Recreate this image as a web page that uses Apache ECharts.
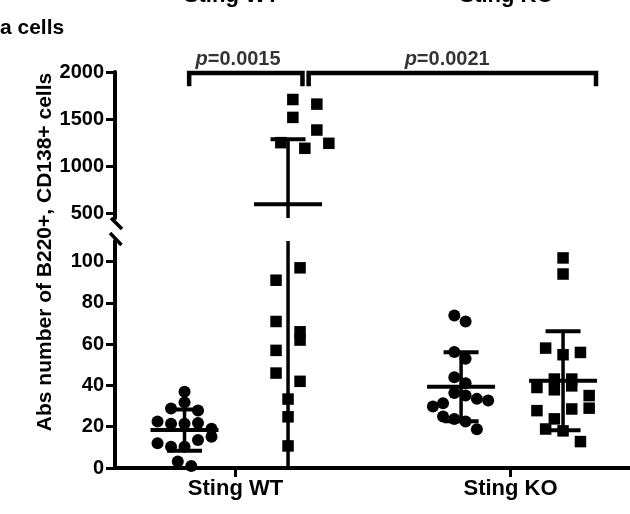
<!DOCTYPE html>
<html>
<head>
<meta charset="utf-8">
<script src="https://cdn.jsdelivr.net/npm/echarts@6/dist/echarts.min.js"></script>
<style>
html, body { margin: 0; padding: 0; background: #fff; }
#chart { width: 630px; height: 514px; }
</style>
</head>
<body>
<div id="chart"></div>
<script>
// groups on the x axis
const groups = ['Sting WT', 'Sting KO'];
const groupPos = [23.4, 76.8];
// column centres: WT circles, WT squares, KO circles, KO squares
const colPos = [13.5, 33.6, 67.2, 87.0];
const laneStep = [2.62, 2.33, 2.19, 1.69];

// Sting WT - circles
const wtCircleVals = [37, 31.8, 28.8, 27.9, 22.5, 21.4, 21.4, 21.8, 19, 12, 10.3, 10.3, 13.6, 15.1, 3.2, 1];
const wtCircleLane = [0, 0, -1, 1, -2, -1, 0, 1, 2, -2, -1, 0, 1, 2, -0.5, 0.5];
// Sting WT - squares above the break
const wtSquareHigh = [1708, 1659, 1518, 1384, 1250, 1190, 1243];
const wtSquareHighLane = [0.4, 2.4, 0.4, 2.4, -0.6, 1.4, 3.4];
// Sting WT - squares below the break
const wtSquareLow = [97, 91, 71, 66, 62, 57, 46, 42, 33.4, 24.8, 10.7];
const wtSquareLowLane = [1, -1, -1, 1, 1, -1, -1, 1, 0, 0, 0];
// Sting KO - circles
const koCircleVals = [73.9, 71, 56.2, 52.9, 44, 41.1, 36.3, 35.1, 33.5, 32.7, 29.8, 31.4, 24.9, 23.8, 22.5, 18.8];
const koCircleLane = [-0.6, 0.4, -0.6, 0.4, -0.6, 0.4, -0.6, 0.4, 1.4, 2.4, -2.5, -1.6, -1.6, -0.6, 0.4, 1.4];
// Sting KO - squares
const koSquareVals = [101.8, 94, 58.1, 54.9, 56, 43.1, 43.1, 39, 37.9, 39.8, 35.1, 29, 27.8, 28.6, 23.8, 18.9, 18, 12.8];
const koSquareLane = [0, 0, -2, 0, 2, -1, 1, -3, -1, 1, 3, 3, -3, 1, -1, -2, 0, 2];

// mean and SD of each column
const means = [18.4, 596, 39.4, 42.3];
const sds = [10.0, 690, 16.7, 24.0];

// significance brackets
const bracketX = [[14.4, 36.4], [37.6, 93.4]];
const bracketTop = 1989;
const bracketFoot = 1848;
const pValues = ['0.0015', '0.0021'];
const pX = [23.9, 64.5];

// y ticks
const upperTicks = [500, 1000, 1500, 2000];
const lowerTicks = [0, 20, 40, 60, 80, 100];

const pts = (col, vals, lanes) => vals.map((v, i) => [colPos[col] + lanes[i] * laneStep[col], v]);

const font = 'Liberation Sans, Arial, sans-serif';

function errorBar(params, api) {
    const cs = params.coordSys;
    const top = cs.y, bottom = cs.y + cs.height;
    const x = api.value(0), m = api.value(1), sd = api.value(2);
    const p = api.coord([x, m]);
    const cx = p[0], yM = p[1];
    const yHi = api.coord([x, m + sd])[1];
    const yLo = api.coord([x, m - sd])[1];
    const clamp = y => Math.min(bottom, Math.max(top, y));
    const inside = y => y >= top - 0.5 && y <= bottom + 0.5;
    const kids = [{
        type: 'line',
        shape: { x1: cx, y1: clamp(yHi), x2: cx, y2: clamp(yLo) },
        style: { stroke: '#000', lineWidth: 3.5 }
    }];
    if (inside(yM)) kids.push({ type: 'line', shape: { x1: cx - 34, y1: yM, x2: cx + 34, y2: yM }, style: { stroke: '#000', lineWidth: 4 } });
    if (inside(yHi)) kids.push({ type: 'line', shape: { x1: cx - 17.5, y1: yHi, x2: cx + 17.5, y2: yHi }, style: { stroke: '#000', lineWidth: 4 } });
    if (inside(yLo)) kids.push({ type: 'line', shape: { x1: cx - 17.5, y1: yLo, x2: cx + 17.5, y2: yLo }, style: { stroke: '#000', lineWidth: 4 } });
    return { type: 'group', children: kids };
}

const axisCommon = {
    axisLine: { show: true, lineStyle: { color: '#000', width: 4 } },
    splitLine: { show: false }
};
const tickLabel = { margin: 11, color: '#000', fontSize: 20, fontWeight: 'bold', fontFamily: font, formatter: v => String(v) };
const dot = { color: '#000', opacity: 1 };

let chart = echarts.init(document.getElementById('chart'));

let option = {
    animation: false,
    backgroundColor: '#fff',
    grid: [
        { left: 115, right: 0, top: 72, height: 146 },
        { left: 115, right: 0, top: 241, bottom: 46 }
    ],
    xAxis: [
        { gridIndex: 0, type: 'value', min: 0, max: 100, show: false },
        Object.assign({}, axisCommon, {
            gridIndex: 1, type: 'value', min: 0, max: 100,
            axisTick: { show: true, length: 9, customValues: groupPos, lineStyle: { color: '#000', width: 3 } },
            axisLabel: {
                customValues: groupPos, margin: 10,
                color: '#000', fontSize: 22, fontWeight: 'bold', fontFamily: font,
                formatter: v => groups[groupPos.indexOf(v)] || ''
            }
        })
    ],
    yAxis: [
        Object.assign({}, axisCommon, {
            gridIndex: 0, type: 'value', min: 450, max: 2000,
            axisTick: { show: true, length: 9, customValues: upperTicks, lineStyle: { color: '#000', width: 3 } },
            axisLabel: Object.assign({ customValues: upperTicks }, tickLabel)
        }),
        Object.assign({}, axisCommon, {
            gridIndex: 1, type: 'value', min: 0, max: 110,
            axisTick: { show: true, length: 9, customValues: lowerTicks, lineStyle: { color: '#000', width: 3 } },
            axisLabel: Object.assign({ customValues: lowerTicks }, tickLabel)
        })
    ],
    series: [
        { type: 'scatter', xAxisIndex: 1, yAxisIndex: 1, symbol: 'circle', symbolSize: 12,
          itemStyle: dot, data: pts(0, wtCircleVals, wtCircleLane) },
        { type: 'scatter', xAxisIndex: 0, yAxisIndex: 0, symbol: 'rect', symbolSize: 11.5,
          itemStyle: dot, data: pts(1, wtSquareHigh, wtSquareHighLane) },
        { type: 'scatter', xAxisIndex: 1, yAxisIndex: 1, symbol: 'rect', symbolSize: 11.5,
          itemStyle: dot, data: pts(1, wtSquareLow, wtSquareLowLane) },
        { type: 'scatter', xAxisIndex: 1, yAxisIndex: 1, symbol: 'circle', symbolSize: 12,
          itemStyle: dot, data: pts(2, koCircleVals, koCircleLane) },
        { type: 'scatter', xAxisIndex: 1, yAxisIndex: 1, symbol: 'rect', symbolSize: 11.5,
          itemStyle: dot, data: pts(3, koSquareVals, koSquareLane) },
        // error bars (mean +/- SD)
        { type: 'custom', xAxisIndex: 0, yAxisIndex: 0, renderItem: errorBar, encode: { x: 0, y: 1 },
          data: [[colPos[1], means[1], sds[1]]] },
        { type: 'custom', xAxisIndex: 1, yAxisIndex: 1, renderItem: errorBar, encode: { x: 0, y: 1 },
          data: colPos.map((c, i) => [c, means[i], sds[i]]) },
        // brackets
        ...bracketX.map(b => ({
            type: 'line', xAxisIndex: 0, yAxisIndex: 0, symbol: 'none', clip: false,
            lineStyle: { color: '#000', width: 4.5, join: 'miter' },
            data: [[b[0], bracketFoot], [b[0], bracketTop], [b[1], bracketTop], [b[1], bracketFoot]]
        })),
        { type: 'scatter', xAxisIndex: 0, yAxisIndex: 0, symbolSize: 0,
          data: pX.map(x => [x, bracketTop]),
          label: {
              show: true, position: 'top', distance: 4,
              color: '#000', fontSize: 20, fontWeight: 'bold', fontFamily: font,
              formatter: p => '{i|p}=' + pValues[p.dataIndex],
              rich: { i: { fontStyle: 'italic', fontSize: 20, fontWeight: 'bold', fontFamily: font, color: '#000' } }
          }
        }
    ]
};
chart.setOption(option);

// axis break marks and free text
const upBottom = chart.convertToPixel({ gridIndex: 0 }, [0, 450]);
const lowTop = chart.convertToPixel({ gridIndex: 1 }, [0, 110]);
const topLabelX = groupPos.map(g => chart.convertToPixel({ gridIndex: 1 }, [g, 0])[0] - 4);

chart.setOption({
    graphic: [
        { type: 'line', shape: { x1: upBottom[0] - 4, y1: upBottom[1], x2: upBottom[0] + 7, y2: upBottom[1] + 11 },
          style: { stroke: '#000', lineWidth: 3.5 } },
        { type: 'line', shape: { x1: lowTop[0] - 5, y1: lowTop[1] - 8, x2: lowTop[0] + 6.5, y2: lowTop[1] + 4 },
          style: { stroke: '#000', lineWidth: 3.5 } },
        { type: 'text', x: 0, y: 18,
          style: { text: 'a cells', fill: '#000', font: 'bold 21px ' + font, verticalAlign: 'top' } },
        ...groups.map((g, i) => ({
            type: 'text', x: topLabelX[i], y: 7,
            style: { text: g, fill: '#000', font: 'bold 22px ' + font, align: 'center', verticalAlign: 'bottom' }
        })),
        { type: 'text', x: 45, y: 252, rotation: Math.PI / 2,
          style: { text: 'Abs number of B220+, CD138+ cells', fill: '#000', font: 'bold 21px ' + font,
                   align: 'center', verticalAlign: 'middle' } }
    ]
});
</script>
</body>
</html>
